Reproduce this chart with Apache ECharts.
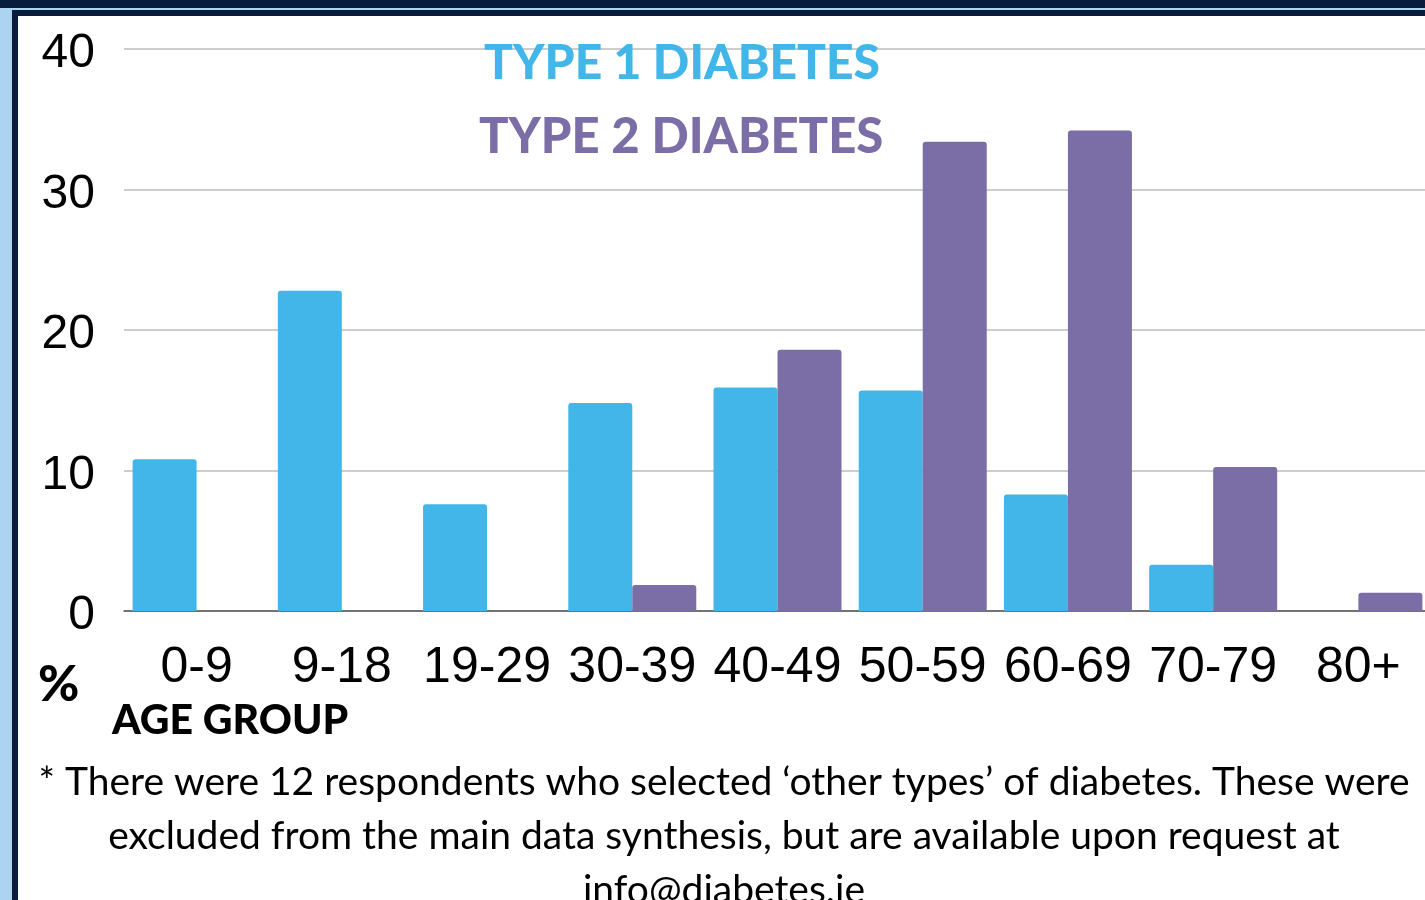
<!DOCTYPE html>
<html>
<head>
<meta charset="utf-8">
<script src="https://cdn.jsdelivr.net/npm/echarts@6/dist/echarts.min.js"></script>
<style>
  html, body { margin: 0; padding: 0; background: #ffffff; overflow: hidden; }
  #chart { width: 1440px; height: 900px; }
</style>
</head>
<body>
<div id="chart"></div>
<script>
const categories = ['0-9', '9-18', '19-29', '30-39', '40-49', '50-59', '60-69', '70-79', '80+'];
const type1Values = [10.8, 22.8, 7.6, 14.8, 15.9, 15.7, 8.3, 3.3, 0];
const type2Values = [0, 0, 0, 1.85, 18.6, 33.4, 34.2, 10.25, 1.3];
const seriesNames = ['TYPE 1 DIABETES', 'TYPE 2 DIABETES'];
const yTicks = { min: 0, max: 40, interval: 10 };
const footnoteLines = [
  '* There were 12 respondents who selected \u2018other types\u2019 of diabetes. These were',
  'excluded from the main data synthesis, but are available upon request at',
  'info@diabetes.ie'
];

const BLUE = '#42b6e8';
const PURPLE = '#7b6ea6';
const NAVY = '#0a1c3c';
const LIGHT = '#acd4f0';

const chart = echarts.init(document.getElementById('chart'));
chart.setOption({
  backgroundColor: '#ffffff',
  animation: false,
  grid: { left: 124, width: 1307, top: 49, bottom: 289, containLabel: false },
  legend: [
    {
      data: [seriesNames[0]], top: 40, left: 479, icon: 'none', itemWidth: 0, itemGap: 0, padding: 0,
      textStyle: { color: BLUE, fontFamily: 'Lato', fontWeight: 900, fontSize: 48 }
    },
    {
      data: [seriesNames[1]], top: 113, left: 474, icon: 'none', itemWidth: 0, itemGap: 0, padding: 0,
      textStyle: { color: PURPLE, fontFamily: 'Lato', fontWeight: 900, fontSize: 49 }
    }
  ],
  xAxis: {
    type: 'category',
    data: categories,
    axisLine: { lineStyle: { color: '#555555', width: 1.5 } },
    axisTick: { show: false },
    axisLabel: {
      color: '#000000', fontFamily: 'Liberation Sans', fontSize: 50, lineHeight: 50,
      margin: 32, interval: 0
    }
  },
  yAxis: {
    type: 'value',
    min: yTicks.min, max: yTicks.max, interval: yTicks.interval,
    axisLine: { show: false },
    axisTick: { show: false },
    splitLine: { lineStyle: { color: '#bdbdbd', width: 1.5 } },
    axisLabel: {
      margin: 29,
      formatter: '{v|{value}}',
      rich: {
        v: { color: '#000000', fontFamily: 'Liberation Sans', fontSize: 48, padding: [10, 0, 0, 0] }
      }
    }
  },
  series: [
    {
      name: seriesNames[0], type: 'bar', data: type1Values, barWidth: 64, barGap: '0%',
      itemStyle: { color: BLUE, borderRadius: [3, 3, 0, 0] }
    },
    {
      name: seriesNames[1], type: 'bar', data: type2Values, barWidth: 64, barGap: '0%',
      itemStyle: { color: PURPLE, borderRadius: [3, 3, 0, 0] }
    }
  ],
  graphic: [
    { type: 'rect', shape: { x: 0, y: 0, width: 1440, height: 8 }, style: { fill: NAVY }, silent: true },
    { type: 'rect', shape: { x: 0, y: 8, width: 1440, height: 2 }, style: { fill: LIGHT }, silent: true },
    { type: 'rect', shape: { x: 0, y: 8, width: 12, height: 892 }, style: { fill: LIGHT }, silent: true },
    { type: 'rect', shape: { x: 12, y: 10, width: 1428, height: 6 }, style: { fill: NAVY }, silent: true },
    { type: 'rect', shape: { x: 12, y: 10, width: 6, height: 890 }, style: { fill: NAVY }, silent: true },
    { type: 'text', left: 38, top: 660, style: { text: '%', fill: '#000', font: '900 50px Lato' } },
    { type: 'text', left: 112, top: 700, style: { text: 'AGE GROUP', fill: '#000', font: '900 41px Lato' } },
    { type: 'text', x: 724, y: 782, style: { text: footnoteLines[0], fill: '#000', font: '39px Lato', textAlign: 'center', textVerticalAlign: 'middle' } },
    { type: 'text', x: 724, y: 836, style: { text: footnoteLines[1], fill: '#000', font: '39px Lato', textAlign: 'center', textVerticalAlign: 'middle' } },
    { type: 'text', x: 724, y: 890, style: { text: footnoteLines[2], fill: '#000', font: '39px Lato', textAlign: 'center', textVerticalAlign: 'middle' } }
  ]
});
</script>
</body>
</html>
